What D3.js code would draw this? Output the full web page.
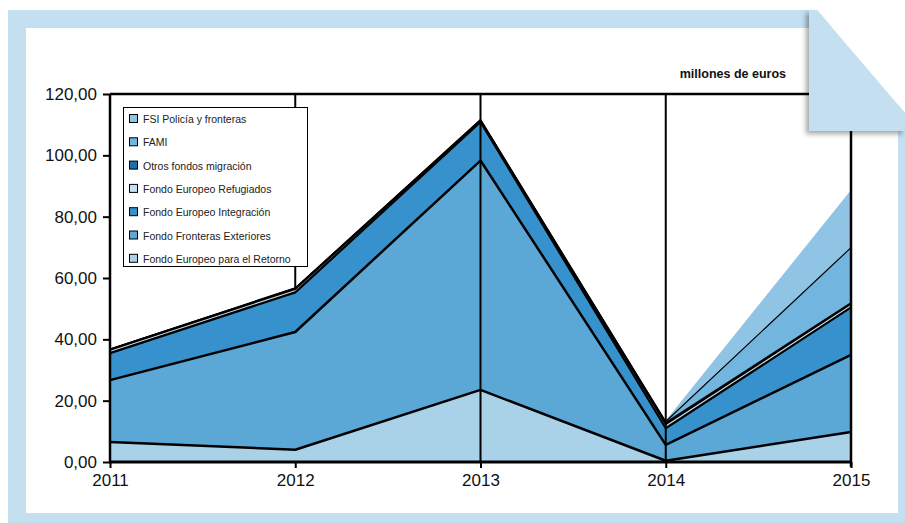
<!DOCTYPE html>
<html>
<head>
<meta charset="utf-8">
<script src="https://cdn.jsdelivr.net/npm/d3@7/dist/d3.min.js"></script>
<style>
  html, body { margin: 0; padding: 0; background: #fff; }
  svg { display: block; }
</style>
</head>
<body>
<svg id="chart" width="905" height="523"></svg>
<script>
// Years on the x axis
const years = [2011, 2012, 2013, 2014, 2015];

// Funds, in millions of euros, listed from the bottom of the stack upwards
const retorno      = [6.5, 4.0, 23.5, 0.4, 9.8];
const fronteras    = [20.2, 38.4, 74.8, 5.2, 25.1];
const integracion  = [8.8, 12.9, 12.6, 5.4, 15.5];
const refugiados   = [1.1, 1.1, 0.4, 1.3, 1.2];
const otros        = [0.2, 0.3, 0.3, 0.5, 0.3];
const fami         = [0, 0, 0, 0.4, 18.0];
const fsi          = [0, 0, 0, 0.3, 18.8];

const seriesNames = [
  "Fondo Europeo para el Retorno",
  "Fondo Fronteras Exteriores",
  "Fondo Europeo Integración",
  "Fondo Europeo Refugiados",
  "Otros fondos migración",
  "FAMI",
  "FSI Policía y fronteras"
];
const seriesValues = [retorno, fronteras, integracion, refugiados, otros, fami, fsi];
const seriesColors = ["#a9d1e8", "#5ba8d7", "#3691cc", "#c6e0f2", "#1a6fae", "#72b5de", "#8fc4e4"];
const seriesStroke = [2.5, 2.5, 2.2, 2, 1.6, 1.2, 0];

const yTicks = [0, 20, 40, 60, 80, 100, 120];

const svg = d3.select("#chart");

// ---- frame: light blue band with a folded top-right corner ----
const frame = "#c3dff0";
const defs = svg.append("defs");
const shadow = defs.append("filter").attr("id", "fold-shadow")
  .attr("x", "-20%").attr("y", "-20%").attr("width", "140%").attr("height", "140%");
shadow.append("feDropShadow").attr("dx", -3).attr("dy", 3).attr("stdDeviation", 2.5)
  .attr("flood-color", "#000").attr("flood-opacity", 0.35);

svg.append("path")
  .attr("d", "M8,10 L817,10 L905,113 L905,523 L8,523 Z")
  .attr("fill", frame);
svg.append("rect")
  .attr("x", 26).attr("y", 28).attr("width", 872).attr("height", 485)
  .attr("fill", "#fff");

// ---- chart ----
const x = d3.scaleLinear().domain([2011, 2015]).range([110, 851]);
const y = d3.scaleLinear().domain([0, 120]).range([462, 94]);

const table = years.map((yr, i) => {
  const row = { year: yr };
  seriesNames.forEach((n, k) => { row[n] = seriesValues[k][i]; });
  return row;
});
const stacked = d3.stack().keys(seriesNames)(table);

const g = svg.append("g");

// gridline that sits behind the areas
const gridBehind = years.filter(yr => yr === 2012);
const gridFront = years.filter(yr => yr !== 2012 && yr !== 2011 && yr !== 2015);

g.selectAll("line.gridb").data(gridBehind).join("line")
  .attr("x1", d => x(d)).attr("x2", d => x(d))
  .attr("y1", y(120)).attr("y2", y(0))
  .attr("stroke", "#000").attr("stroke-width", 2);

const area = d3.area()
  .x(d => x(d.data.year))
  .y0(d => y(d[0]))
  .y1(d => y(d[1]));
const topLine = d3.line()
  .x(d => x(d.data.year))
  .y(d => y(d[1]));

g.selectAll("path.area").data(stacked).join("path")
  .attr("class", "area")
  .attr("d", area)
  .attr("fill", (d, i) => seriesColors[i]);

g.selectAll("path.edge").data(stacked).join("path")
  .attr("class", "edge")
  .attr("d", topLine)
  .attr("fill", "none")
  .attr("stroke", "#000")
  .attr("stroke-linejoin", "round")
  .attr("stroke-width", (d, i) => seriesStroke[i])
  .attr("stroke-opacity", (d, i) => seriesStroke[i] > 0 ? 1 : 0);

g.selectAll("line.gridf").data(gridFront).join("line")
  .attr("x1", d => x(d)).attr("x2", d => x(d))
  .attr("y1", y(120)).attr("y2", y(0))
  .attr("stroke", "#000").attr("stroke-width", 2);

// plot border: top and right edges
g.append("line").attr("x1", x(2011)).attr("x2", x(2015))
  .attr("y1", y(120)).attr("y2", y(120))
  .attr("stroke", "#000").attr("stroke-width", 2.5);
g.append("line").attr("x1", x(2015)).attr("x2", x(2015))
  .attr("y1", y(120)).attr("y2", y(0) + 5)
  .attr("stroke", "#000").attr("stroke-width", 2.5);

// y axis
const yAxis = d3.axisLeft(y).tickValues(yTicks)
  .tickFormat(d => d3.format(".2f")(d).replace(".", ","))
  .tickSize(7).tickPadding(6);
const ya = g.append("g").attr("transform", `translate(${x(2011)},0)`).call(yAxis);
ya.select(".domain").attr("stroke", "#000").attr("stroke-width", 2.5)
  .attr("d", `M0,${y(120)}V${y(0)}`);
ya.selectAll(".tick line").attr("stroke", "#000").attr("stroke-width", 2);
ya.selectAll(".tick text")
  .attr("font-family", "'Liberation Sans', Arial, sans-serif")
  .attr("font-size", 17).attr("fill", "#111");

// x axis
const xAxis = d3.axisBottom(x).tickValues(years).tickFormat(d3.format("d"))
  .tickSize(6).tickPadding(6);
const xa = g.append("g").attr("transform", `translate(0,${y(0)})`).call(xAxis);
xa.select(".domain").attr("stroke", "#000").attr("stroke-width", 3)
  .attr("d", `M${x(2011) - 1},0H${x(2015) + 1}`);
xa.selectAll(".tick line").attr("stroke", "#000").attr("stroke-width", 2);
xa.selectAll(".tick text")
  .attr("font-family", "'Liberation Sans', Arial, sans-serif")
  .attr("font-size", 17).attr("fill", "#111");

// unit label
svg.append("text")
  .attr("x", 786).attr("y", 78)
  .attr("text-anchor", "end")
  .attr("font-family", "'Liberation Sans', Arial, sans-serif")
  .attr("font-weight", "bold").attr("font-size", 12.5)
  .attr("fill", "#111")
  .text("millones de euros");

// legend (top of stack listed first)
const legend = svg.append("g");
legend.append("rect")
  .attr("x", 123.5).attr("y", 107.5).attr("width", 184).attr("height", 159)
  .attr("fill", "#fff").attr("stroke", "#000").attr("stroke-width", 1);
const legendOrder = d3.range(seriesNames.length).reverse();
const li = legend.selectAll("g.item").data(legendOrder).join("g")
  .attr("transform", (d, j) => `translate(129,${119 + j * 23.3})`);
li.append("rect")
  .attr("x", 0.5).attr("y", -4.5).attr("width", 8).attr("height", 8)
  .attr("fill", d => seriesColors[d]).attr("stroke", "#000").attr("stroke-width", 1);
li.append("text")
  .attr("x", 14).attr("y", 4)
  .attr("font-family", "'Liberation Sans', Arial, sans-serif")
  .attr("font-size", 10.5).attr("fill", "#222")
  .text(d => seriesNames[d]);

// folded corner flap
svg.append("path")
  .attr("d", "M809,10 L817,10 L905,113 L905,131 L809,131 Z")
  .attr("fill", frame)
  .attr("filter", "url(#fold-shadow)");
</script>
</body>
</html>
